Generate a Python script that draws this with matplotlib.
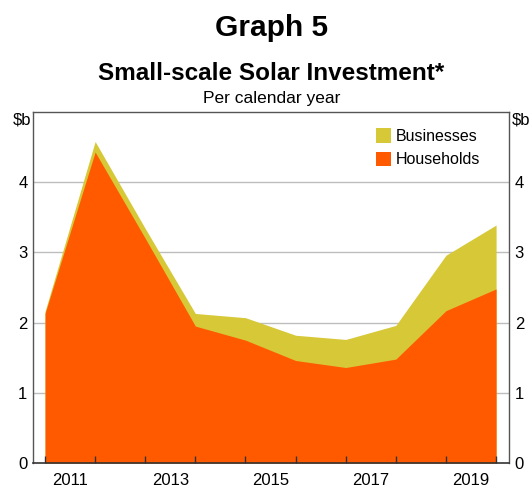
import matplotlib
matplotlib.use("Agg")
import matplotlib.pyplot as plt
from matplotlib.patches import Patch
import numpy as np

plt.rcParams['font.family'] = ['Liberation Sans', 'DejaVu Sans']

years = [2010, 2011, 2012, 2013, 2014, 2015, 2016, 2017, 2018, 2019]
households = [2.13, 4.43, 3.20, 1.95, 1.75, 1.46, 1.36, 1.48, 2.17, 2.48]
businesses = [0.03, 0.15, 0.14, 0.18, 0.32, 0.36, 0.40, 0.48, 0.79, 0.91]
year_labels = ['2011', '2013', '2015', '2017', '2019']
y_ticks = [0, 1, 2, 3, 4]

orange = '#FF5A00'
yellow = '#D6C836'

fig = plt.figure(figsize=(5.32, 4.87), dpi=100)
ax = fig.add_axes([0.062, 0.0493, 0.895, 0.7207])

x = np.arange(len(years))
hh = np.array(households)
tot = hh + np.array(businesses)
ax.fill_between(x, 0, tot, color=yellow, linewidth=0, zorder=1.0)
ax.fill_between(x, 0, hh, color=orange, linewidth=0, zorder=1.1)

ax.set_xlim(-0.24, len(years) - 1 + 0.26)
ax.set_ylim(0, 5)

# gridlines behind the areas
for v in y_ticks[1:]:
    ax.axhline(v, color='#BDBDBD', linewidth=1.0, zorder=0.5)

ax.set_yticks(y_ticks)
ax.set_yticklabels([str(v) for v in y_ticks])
ax.tick_params(axis='y', length=0, labelsize=12, pad=4,
               labelleft=True, labelright=True)

# year ticks at each data point, labels centred in the odd-year spans
ax.set_xticks(x)
ax.set_xticklabels([])
ax.tick_params(axis='x', direction='in', length=5, width=1, color='#333333')
label_pos = [i + 0.5 for i in range(0, len(years), 2)]
for pos, lab in zip(label_pos, year_labels):
    ax.text(pos, -0.028, lab, ha='center', va='top', fontsize=12,
            transform=ax.get_xaxis_transform())

for s in ['left', 'right', 'top']:
    ax.spines[s].set_color('#555555')
    ax.spines[s].set_linewidth(1.0)
ax.spines['bottom'].set_color('#333333')
ax.spines['bottom'].set_linewidth(1.2)

# unit labels
fig.text(31 / 532, 1 - 120 / 487, '$b', ha='right', va='center', fontsize=12)
fig.text(512 / 532, 1 - 120 / 487, '$b', ha='left', va='center', fontsize=12)

handles = [Patch(facecolor=yellow, edgecolor='none', label='Businesses'),
           Patch(facecolor=orange, edgecolor='none', label='Households')]
ax.legend(handles=handles, loc='upper right', bbox_to_anchor=(0.962, 0.985),
          frameon=False, fontsize=11.5, handlelength=0.95, handleheight=1.05,
          handletextpad=0.25, labelspacing=0.45, borderaxespad=0.3)

fig.text(0.51, 1 - 28 / 487, 'Graph 5', ha='center', va='center',
         fontsize=21.5, fontweight='bold')
fig.text(0.51, 1 - 73 / 487, 'Small-scale Solar Investment*', ha='center',
         va='center', fontsize=17.5, fontweight='bold')
fig.text(0.51, 1 - 98 / 487, 'Per calendar year', ha='center', va='center',
         fontsize=12.5)

fig.savefig('out.png', dpi=100)
